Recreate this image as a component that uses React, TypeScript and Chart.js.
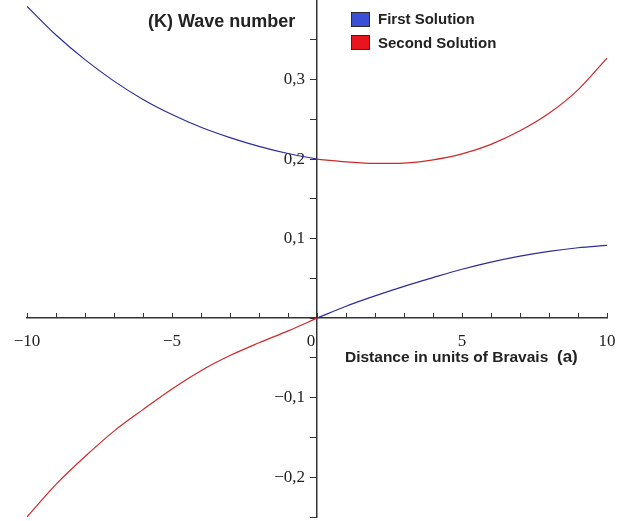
import React, { useEffect, useRef } from "react";
import { Chart, registerables } from "chart.js";

Chart.register(...registerables);

// ---- data ----
const xLeft = [-10, -9, -8, -7, -6, -5, -4, -3, -2, -1, 0];
const xRight = [0, 1, 2, 3, 4, 5, 6, 7, 8, 9, 10];
// First Solution (blue)
const firstLeft = [0.392, 0.356, 0.325, 0.298, 0.275, 0.256, 0.24, 0.227, 0.216, 0.207, 0.2];
const firstRight = [0, 0.015, 0.028, 0.04, 0.051, 0.0615, 0.0705, 0.078, 0.084, 0.0885, 0.0915];
// Second Solution (red)
const secondLeft = [-0.25, -0.209, -0.174, -0.142, -0.115, -0.089, -0.066, -0.047, -0.031, -0.016, 0];
const secondRight = [0.2, 0.1965, 0.1945, 0.195, 0.199, 0.2065, 0.2185, 0.2355, 0.2575, 0.287, 0.327];

const xLabelValues = [-10, -5, 0, 5, 10];
const yLabelValues = [-0.2, -0.1, 0.1, 0.2, 0.3];

const seriesNames = ["First Solution", "Second Solution"];
const titleText = "(K) Wave number";
const xAxisText = "Distance in units of Bravais";
const xAxisUnit = "(a)";

const BLUE_LINE = "#2c2c9e";
const RED_LINE = "#cc2a2a";
const BLUE_BOX = "#3b4ed6";
const RED_BOX = "#e8161c";
const AXIS = "#333333";
const TEXT = "#222222";

const pts = (xs: number[], ys: number[]) => xs.map((x, i) => ({ x, y: ys[i] }));

const near = (a: number, b: number) => Math.abs(a - b) < 1e-6;

const zeroPad = (scale: any) => {
  scale.paddingLeft = 0;
  scale.paddingRight = 0;
  scale.paddingTop = 0;
  scale.paddingBottom = 0;
};

const xUpTicks = {
  id: "xUpTicks",
  afterDraw(chart: any) {
    const xs = chart.scales.x;
    const ys = chart.scales.y;
    const ctx = chart.ctx;
    const y0 = Math.round(ys.getPixelForValue(0));
    ctx.save();
    ctx.strokeStyle = AXIS;
    ctx.lineWidth = 1;
    xs.ticks.forEach((t: any) => {
      const px = Math.round(xs.getPixelForValue(t.value)) + 0.5;
      ctx.beginPath();
      ctx.moveTo(px, y0);
      ctx.lineTo(px, y0 - 5);
      ctx.stroke();
    });
    ctx.restore();
  },
};

export default function App() {
  const ref = useRef<HTMLCanvasElement | null>(null);

  useEffect(() => {
    if (!ref.current) return;
    const lineDs = (label: string, data: any[], color: string) => ({
      label,
      data,
      borderColor: color,
      backgroundColor: color,
      borderWidth: 1.2,
      pointRadius: 0,
      cubicInterpolationMode: "monotone" as const,
      fill: false,
    });
    const chart = new Chart(ref.current, {
      type: "line",
      data: {
        datasets: [
          lineDs(seriesNames[0], pts(xLeft, firstLeft), BLUE_LINE),
          lineDs(seriesNames[0], pts(xRight, firstRight), BLUE_LINE),
          lineDs(seriesNames[1], pts(xLeft, secondLeft), RED_LINE),
          lineDs(seriesNames[1], pts(xRight, secondRight), RED_LINE),
        ],
      },
      options: {
        animation: false,
        responsive: false,
        devicePixelRatio: 1,
        layout: { padding: { left: 27, right: 15, top: 0, bottom: 4 } },
        plugins: {
          legend: { display: false },
          tooltip: { enabled: false },
          title: { display: false },
        },
        scales: {
          x: {
            type: "linear",
            position: { y: 0 } as any,
            min: -10,
            max: 10,
            afterFit: zeroPad,
            grid: { display: false, drawTicks: false },
            border: { display: true, color: AXIS, width: 1.5 },
            ticks: {
              stepSize: 1,
              autoSkip: false,
              maxRotation: 0,
              padding: 13,
              color: TEXT,
              font: { family: "'Liberation Serif', serif", size: 17 },
              callback: (v: any) => {
                const n = Number(v);
                if (!xLabelValues.some((a) => near(a, n))) return "";
                if (near(n, 0)) return "0\u2002\u2009";
                return String(Math.round(n)).replace("-", "\u2212");
              },
            },
          },
          y: {
            type: "linear",
            position: { x: 0 } as any,
            min: -0.25,
            max: 0.4,
            afterFit: zeroPad,
            afterBuildTicks: (scale: any) => {
              scale.ticks = scale.ticks.filter((t: any) => t.value < 0.399);
            },
            grid: {
              display: true,
              drawOnChartArea: false,
              drawTicks: true,
              tickLength: 6,
              color: AXIS,
              lineWidth: 1,
            },
            border: { display: true, color: AXIS, width: 1.5 },
            ticks: {
              stepSize: 0.05,
              autoSkip: false,
              padding: 7,
              color: TEXT,
              font: { family: "'Liberation Serif', serif", size: 17 },
              callback: (v: any) => {
                const n = Number(v);
                if (!yLabelValues.some((a) => near(a, n))) return "";
                return n.toFixed(1).replace(".", ",").replace("-", "\u2212") + "\u2002\u2009";
              },
            },
          },
        },
      },
      plugins: [xUpTicks],
    });
    return () => chart.destroy();
  }, []);

  const sans = "'Liberation Sans', Arial, sans-serif";
  const abs = (left: number, top: number, size: number): React.CSSProperties => ({
    position: "absolute",
    left,
    top,
    fontFamily: sans,
    fontWeight: "bold",
    fontSize: size,
    lineHeight: `${size}px`,
    color: TEXT,
    whiteSpace: "nowrap",
  });
  const box = (top: number, fill: string): React.CSSProperties => ({
    position: "absolute",
    left: 351,
    top,
    width: 17,
    height: 13,
    background: fill,
    border: "1px solid #2a2a2a",
  });

  return (
    <div style={{ position: "absolute", left: 0, top: 0, width: 622, height: 521, background: "#fff" }}>
      <canvas ref={ref} width={622} height={521} style={{ position: "absolute", left: 0, top: 0 }} />
      <div style={abs(148, 12, 18)}>{titleText}</div>
      <div style={box(12, BLUE_BOX)} />
      <div style={abs(378, 10.5, 15)}>{seriesNames[0]}</div>
      <div style={box(35, RED_BOX)} />
      <div style={abs(378, 35, 15)}>{seriesNames[1]}</div>
      <div style={abs(345, 348.5, 15.5)}>{xAxisText}</div>
      <div style={abs(557, 347.5, 17)}>{xAxisUnit}</div>
    </div>
  );
}
